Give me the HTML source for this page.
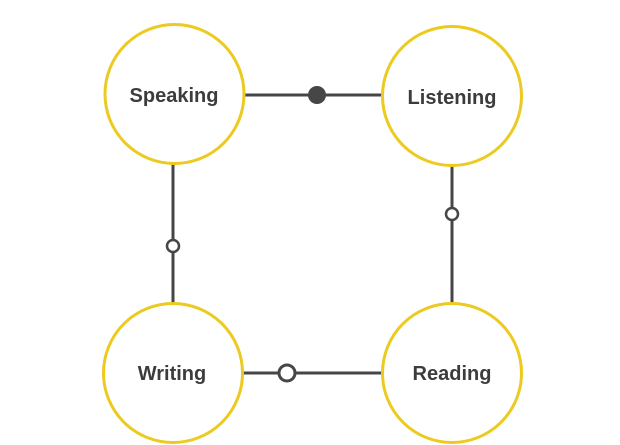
<!DOCTYPE html>
<html><head><style>html,body{margin:0;padding:0;background:#fff;width:620px;height:445px;overflow:hidden}</style></head>
<body>
<svg width="620" height="445" viewBox="0 0 620 445" xmlns="http://www.w3.org/2000/svg">
<g stroke="#464646" stroke-width="3" fill="none">
<line x1="244" y1="95" x2="382" y2="95"/>
<line x1="173" y1="164" x2="173" y2="303"/>
<line x1="452" y1="165" x2="452" y2="303"/>
<line x1="243" y1="373" x2="382" y2="373"/>
</g>
<circle cx="317" cy="95" r="9" fill="#464646"/>
<circle cx="173" cy="246" r="6" fill="#fff" stroke="#464646" stroke-width="2.5"/>
<circle cx="452" cy="214" r="6" fill="#fff" stroke="#464646" stroke-width="2.5"/>
<circle cx="287" cy="373" r="8" fill="#fff" stroke="#464646" stroke-width="3"/>
<g fill="#fff" stroke="#ecca1f" stroke-width="3">
<circle cx="174.5" cy="94" r="69.5"/>
<circle cx="452" cy="96" r="69.5"/>
<circle cx="173" cy="373" r="69.5"/>
<circle cx="452" cy="373" r="69.5"/>
</g>
<g font-family="Liberation Sans, sans-serif" font-weight="bold" font-size="20" fill="#3c3c3c" text-anchor="middle">
<text x="174" y="102">Speaking</text>
<text x="452" y="104">Listening</text>
<text x="172" y="380">Writing</text>
<text x="452" y="380">Reading</text>
</g>
</svg>
</body></html>
